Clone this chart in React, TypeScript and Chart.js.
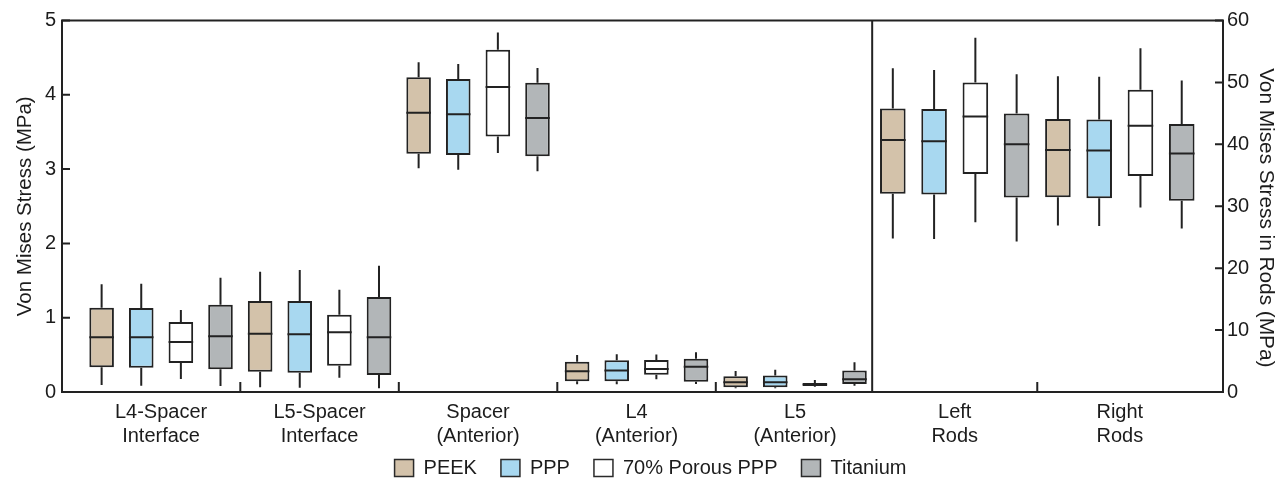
import React, { useEffect, useRef } from 'react';
import { Chart, registerables } from 'chart.js';

Chart.register(...registerables);

// ---------- data ----------
const categories: string[][] = [
  ['L4-Spacer', 'Interface'],
  ['L5-Spacer', 'Interface'],
  ['Spacer', '(Anterior)'],
  ['L4', '(Anterior)'],
  ['L5', '(Anterior)'],
  ['Left', 'Rods'],
  ['Right', 'Rods'],
];
// first five categories use the left axis, the last two (rods) use the right axis
const rodCategoryCount = 2;

const materials = ['PEEK', 'PPP', '70% Porous PPP', 'Titanium'];
const materialColors = ['#d3c2aa', '#a8d8f0', '#ffffff', '#b2b6b8'];

// [min, q1, median, q3, max] per category
const peekStats = [
  [0.095, 0.332, 0.736, 1.135, 1.45],
  [0.063, 0.273, 0.785, 1.225, 1.62],
  [3.01, 3.207, 3.76, 4.235, 4.437],
  [0.105, 0.145, 0.28, 0.408, 0.498],
  [0.05, 0.063, 0.132, 0.212, 0.283],
  [24.8, 32.0, 40.7, 45.8, 52.3],
  [26.9, 31.45, 39.1, 44.1, 51.0],
];
const pppStats = [
  [0.085, 0.327, 0.736, 1.13, 1.458],
  [0.058, 0.26, 0.776, 1.225, 1.642],
  [2.99, 3.19, 3.737, 4.213, 4.415],
  [0.105, 0.145, 0.29, 0.428, 0.509],
  [0.05, 0.063, 0.132, 0.222, 0.3],
  [24.7, 31.9, 40.5, 45.7, 52.0],
  [26.8, 31.3, 39.0, 44.0, 50.9],
];
const porousStats = [
  [0.175, 0.39, 0.673, 0.942, 1.104],
  [0.193, 0.354, 0.803, 1.04, 1.377],
  [3.217, 3.44, 4.105, 4.607, 4.84],
  [0.171, 0.231, 0.308, 0.43, 0.504],
  [0.072, 0.082, 0.1, 0.122, 0.16],
  [27.4, 35.2, 44.5, 50.0, 57.2],
  [29.8, 34.9, 43.0, 48.8, 55.5],
];
const titaniumStats = [
  [0.081, 0.305, 0.75, 1.175, 1.539],
  [0.049, 0.229, 0.736, 1.279, 1.7],
  [2.97, 3.172, 3.688, 4.163, 4.36],
  [0.108, 0.137, 0.341, 0.448, 0.534],
  [0.083, 0.108, 0.171, 0.29, 0.4],
  [24.3, 31.4, 40.0, 45.0, 51.3],
  [26.4, 30.9, 38.5, 43.3, 50.3],
];
const allStats = [peekStats, pppStats, porousStats, titaniumStats];

const leftTicks = [0, 1, 2, 3, 4, 5];
const rodTicks = [0, 10, 20, 30, 40, 50, 60];

const leftTitle = 'Von Mises Stress (MPa)';
const rightTitle = 'Von Mises Stress in Rods (MPa)';

// ---------- layout / style ----------
const FONT = "'Liberation Sans', Arial, Helvetica, sans-serif";
const INK = '#1c1c1c';
const X_MIN = 0;
const X_MAX = 29.3;
const X2_MIN = -19.13;
const X2_MAX = 9;
const BOX_SLOTS = materials.length;
const RIGHT_TITLE_INDENT = '    '; // nudges the rotated right title down, as in the source figure

const leftCount = categories.length - rodCategoryCount;

function buildDatasets() {
  const sets: any[] = [];
  materials.forEach((name, m) => {
    const stats = allStats[m];
    const common = {
      label: name,
      backgroundColor: materialColors[m],
      borderColor: '#222',
      borderWidth: 2,
      borderSkipped: false,
      grouped: false,
      categoryPercentage: 1,
      barPercentage: 0.62,
    };
    const leftStats = stats.slice(0, leftCount);
    sets.push({
      ...common,
      xAxisID: 'x',
      yAxisID: 'y',
      stats: leftStats,
      data: leftStats.map((s, c) => ({ x: c * BOX_SLOTS + m + 1, y: [s[1], s[3]] })),
    });
    const rodStats = stats.slice(leftCount);
    sets.push({
      ...common,
      xAxisID: 'x2',
      yAxisID: 'y2',
      stats: rodStats,
      data: rodStats.map((s, c) => ({ x: c * BOX_SLOTS + m + 1, y: [s[1], s[3]] })),
    });
  });
  return sets;
}

const groupCenter = (g: number) => g * BOX_SLOTS + (BOX_SLOTS + 1) / 2;
const groupEdge = (g: number) => g * BOX_SLOTS + 0.5;

const boxPlotPlugin = {
  id: 'boxDecor',
  afterLayout(chart: any) {
    // let the two-line category labels extend into the legend band instead of being clipped
    const x = chart.scales.x;
    if (x) x.bottom = chart.height;
  },
  afterDatasetsDraw(chart: any) {
    const { ctx, chartArea } = chart;
    const { left, right, top, bottom } = chartArea;
    ctx.save();
    ctx.strokeStyle = '#222';
    ctx.lineWidth = 2;
    // whiskers + medians
    chart.data.datasets.forEach((ds: any, di: number) => {
      const meta = chart.getDatasetMeta(di);
      const yScale = chart.scales[meta.yAxisID];
      meta.data.forEach((el: any, i: number) => {
        const s = ds.stats[i];
        const { x, width } = el.getProps(['x', 'width'], true);
        const py = (v: number) => yScale.getPixelForValue(v);
        ctx.beginPath();
        ctx.moveTo(x, py(s[3]));
        ctx.lineTo(x, py(s[4]));
        ctx.moveTo(x, py(s[1]));
        ctx.lineTo(x, py(s[0]));
        ctx.moveTo(x - width / 2, py(s[2]));
        ctx.lineTo(x + width / 2, py(s[2]));
        ctx.stroke();
      });
    });
    // frame
    ctx.strokeRect(left, top, right - left, bottom - top);
    // inward ticks on the y axes
    const y = chart.scales.y;
    const y2 = chart.scales.y2;
    ctx.beginPath();
    leftTicks.forEach((v) => {
      const p = y.getPixelForValue(v);
      ctx.moveTo(left, p);
      ctx.lineTo(left + 8, p);
    });
    rodTicks.forEach((v) => {
      const p = y2.getPixelForValue(v);
      ctx.moveTo(right - 8, p);
      ctx.lineTo(right, p);
    });
    // group separators on x axis
    const x = chart.scales.x;
    const x2 = chart.scales.x2;
    for (let g = 1; g < leftCount; g++) {
      const p = x.getPixelForValue(groupEdge(g));
      ctx.moveTo(p, bottom);
      ctx.lineTo(p, bottom - 10);
    }
    for (let g = 1; g < rodCategoryCount; g++) {
      const p = x2.getPixelForValue(groupEdge(g));
      ctx.moveTo(p, bottom);
      ctx.lineTo(p, bottom - 10);
    }
    ctx.stroke();
    // panel divider
    const d = x2.getPixelForValue(groupEdge(0));
    ctx.beginPath();
    ctx.moveTo(d, top);
    ctx.lineTo(d, bottom);
    ctx.stroke();
    ctx.restore();
  },
};

export default function App() {
  const ref = useRef<HTMLCanvasElement>(null);
  useEffect(() => {
    const canvas = ref.current;
    if (!canvas) return;
    const chart = new Chart(canvas, {
      type: 'bar',
      data: { datasets: buildDatasets() },
      plugins: [boxPlotPlugin],
      options: {
        responsive: false,
        animation: false,
        events: [],
        layout: { padding: { left: 18, right: 0, top: 20.5, bottom: -10 } },
        font: { family: FONT },
        color: INK,
        plugins: {
          tooltip: { enabled: false },
          title: { display: false },
          legend: {
            display: true,
            position: 'bottom',
            align: 'center',
            labels: {
              color: INK,
              font: { family: FONT, size: 20 },
              boxWidth: 19,
              boxHeight: 17,
              padding: 24,
              generateLabels: () =>
                materials.map((m, i) => ({
                  text: m,
                  fillStyle: materialColors[i],
                  strokeStyle: '#2a2a2a',
                  lineWidth: 1.5,
                  hidden: false,
                  fontColor: INK,
                  datasetIndex: i * 2,
                })),
            },
          },
        },
        scales: {
          x: {
            type: 'linear',
            position: 'bottom',
            min: X_MIN,
            max: X_MAX,
            offset: false,
            grid: { display: false, drawTicks: false },
            border: { display: false },
            afterBuildTicks: (scale: any) => {
              const conv = (k: number) => X_MIN + ((k - X2_MIN) / (X2_MAX - X2_MIN)) * (X_MAX - X_MIN);
              const ticks: any[] = [];
              for (let g = 0; g < leftCount; g++) ticks.push({ value: groupCenter(g) });
              for (let g = 0; g < rodCategoryCount; g++) ticks.push({ value: conv(groupCenter(g)) });
              scale.ticks = ticks;
            },
            afterFit: (scale: any) => {
              scale.height = 42;
              scale.paddingLeft = 0;
              scale.paddingRight = 0;
            },
            ticks: {
              autoSkip: false,
              maxRotation: 0,
              minRotation: 0,
              padding: 8,
              color: INK,
              font: { family: FONT, size: 20, lineHeight: 1.2 },
              callback: (_v: any, i: number) => categories[i],
            },
          },
          x2: {
            type: 'linear',
            display: false,
            min: X2_MIN,
            max: X2_MAX,
            offset: false,
            afterBuildTicks: (scale: any) => {
              scale.ticks = [];
            },
          },
          y: {
            type: 'linear',
            position: 'left',
            min: 0,
            max: 5,
            grid: { display: false, drawTicks: false },
            border: { display: false },
            afterBuildTicks: (scale: any) => {
              scale.ticks = leftTicks.map((v) => ({ value: v }));
            },
            afterFit: (scale: any) => {
              scale.width = 44;
              scale.paddingTop = 0;
              scale.paddingBottom = 0;
            },
            ticks: {
              padding: 6,
              color: INK,
              font: { family: FONT, size: 20 },
            },
            title: {
              display: true,
              text: leftTitle,
              color: INK,
              font: { family: FONT, size: 20.5 },
              padding: { top: -5.3, bottom: 0 },
            },
          },
          y2: {
            type: 'linear',
            position: 'right',
            min: 0,
            max: 60,
            grid: { display: false, drawTicks: false },
            border: { display: false },
            afterBuildTicks: (scale: any) => {
              scale.ticks = rodTicks.map((v) => ({ value: v }));
            },
            afterFit: (scale: any) => {
              scale.width = 60;
              scale.paddingTop = 0;
              scale.paddingBottom = 0;
            },
            ticks: {
              padding: 4,
              color: INK,
              font: { family: FONT, size: 20 },
            },
            title: {
              display: true,
              text: RIGHT_TITLE_INDENT + rightTitle,
              color: INK,
              font: { family: FONT, size: 20.8 },
              padding: { top: 4.7, bottom: 0 },
            },
          },
        },
      } as any,
    });
    return () => chart.destroy();
  }, []);

  return (
    <div style={{ position: 'fixed', left: 0, top: 0, width: 1283, height: 478, background: '#fff' }}>
      <canvas ref={ref} width={1283} height={478} style={{ display: 'block' }} />
    </div>
  );
}
